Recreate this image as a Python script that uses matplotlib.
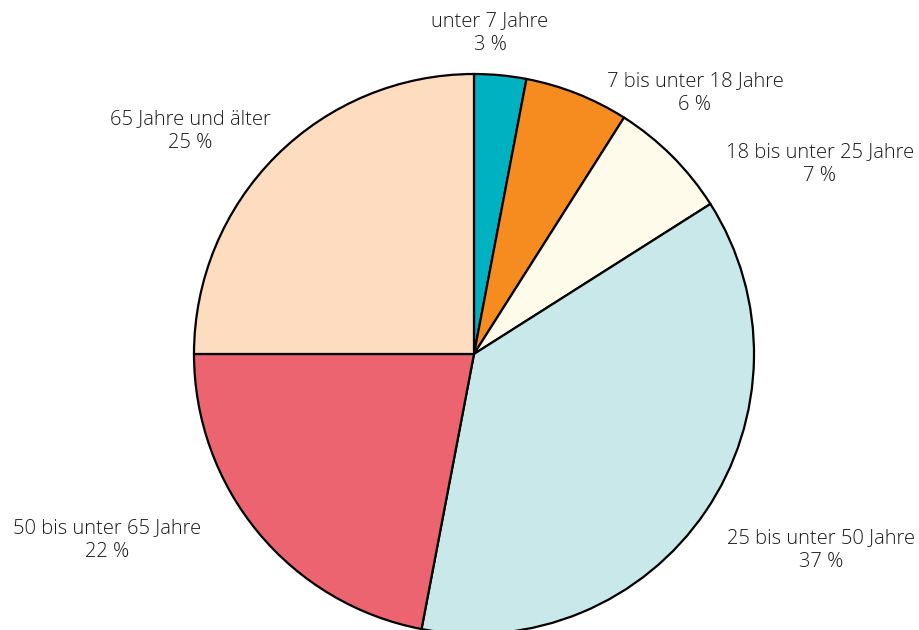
import matplotlib
matplotlib.use("Agg")
import matplotlib.pyplot as plt

categories = ["unter 7 Jahre", "7 bis unter 18 Jahre", "18 bis unter 25 Jahre",
              "25 bis unter 50 Jahre", "50 bis unter 65 Jahre", "65 Jahre und älter"]
values = [3, 6, 7, 37, 22, 25]
colors = ["#00b2c1", "#f68b1f", "#fffbea", "#c9e8ea", "#eb6470", "#fedcbf"]

# label anchor positions (pixels from top-left of figure)
label_pos = [(490, 33), (695, 93), (820, 164), (821, 550), (107, 540), (190, 131)]

W, H = 920, 630
fig = plt.figure(figsize=(W / 100, H / 100), dpi=100)
ax = fig.add_axes([0, 0, 1, 1])

cx, cy, r = 474, H - 354, 280
ax.pie(values, colors=colors, startangle=90, counterclock=False,
       center=(cx, cy), radius=r, frame=True,
       wedgeprops=dict(edgecolor="black", linewidth=1.6))
ax.set_xlim(0, W)
ax.set_ylim(0, H)
ax.set_aspect("equal")
ax.axis("off")

for cat, v, (x, y) in zip(categories, values, label_pos):
    ax.text(x, H - y, f"{cat}\n{v} %", ha="center", va="center",
            fontsize=14.5, family=["Open Sans", "DejaVu Sans"], fontweight="light",
            color="#1a1a1a", linespacing=1.25)

fig.savefig("out.png", dpi=100)
